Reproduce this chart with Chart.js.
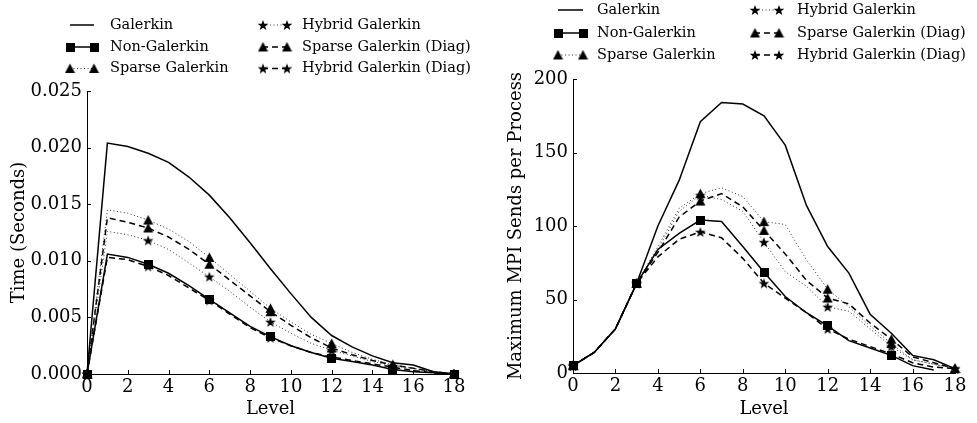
<!DOCTYPE html>
<html>
<head>
<meta charset="utf-8">
<script src="https://cdn.jsdelivr.net/npm/chart.js@4.4.0/dist/chart.umd.min.js"></script>
<style>
html, body { margin: 0; padding: 0; background: #fff; }
#wrap { position: relative; width: 977px; height: 423px; overflow: hidden; }
#timeChart { position: absolute; left: 0; top: 0; }
#sendsChart { position: absolute; left: 488px; top: 0; }
</style>
</head>
<body>
<div id="wrap">
  <canvas id="timeChart" width="488" height="423"></canvas>
  <canvas id="sendsChart" width="489" height="423"></canvas>
</div>
<script>
// niveles (eje x)
const levels = [0, 1, 2, 3, 4, 5, 6, 7, 8, 9, 10, 11, 12, 13, 14, 15, 16, 17, 18];

const seriesLabels = ['Galerkin', 'Non-Galerkin', 'Sparse Galerkin', 'Hybrid Galerkin',
                      'Sparse Galerkin (Diag)', 'Hybrid Galerkin (Diag)'];

// tiempo por nivel (segundos)
const timeGalerkin   = [0, 0.0204, 0.0201, 0.0195, 0.0187, 0.0174, 0.0158, 0.0138, 0.0116, 0.0093, 0.0071, 0.0050, 0.0034, 0.0024, 0.0016, 0.0010, 0.0008, 0.0002, 0];
const timeNonGal     = [0, 0.0106, 0.0103, 0.0097, 0.0089, 0.0078, 0.0066, 0.0054, 0.0042, 0.0033, 0.0025, 0.0019, 0.0014, 0.0011, 0.0008, 0.0004, 0.0002, 0.0001, 0];
const timeSparse     = [0, 0.0145, 0.0142, 0.0136, 0.0128, 0.0117, 0.0103, 0.0088, 0.0073, 0.0058, 0.0046, 0.0035, 0.0027, 0.0019, 0.0013, 0.0008, 0.0005, 0.0002, 0];
const timeHybrid     = [0, 0.0126, 0.0123, 0.0118, 0.0110, 0.0098, 0.0086, 0.0073, 0.0059, 0.0046, 0.0036, 0.0027, 0.0021, 0.0016, 0.0011, 0.0007, 0.0005, 0.0002, 0];
const timeSparseDiag = [0, 0.0138, 0.0134, 0.0129, 0.0121, 0.0110, 0.0097, 0.0083, 0.0069, 0.0055, 0.0043, 0.0032, 0.0023, 0.0017, 0.0012, 0.0008, 0.0005, 0.0002, 0];
const timeHybridDiag = [0, 0.0103, 0.0101, 0.0095, 0.0087, 0.0076, 0.0065, 0.0053, 0.0041, 0.0032, 0.0025, 0.0019, 0.0015, 0.0012, 0.0009, 0.0006, 0.0003, 0.0001, 0];

// envios MPI maximos por proceso
const sendsGalerkin   = [5, 14, 30, 61, 100, 131, 171, 184, 183, 175, 155, 114, 86, 68, 40, 27, 12, 9, 3];
const sendsNonGal     = [5, 14, 30, 61, 84, 95, 104, 103, 86, 68.5, 52, 41, 32, 22, 17, 12, 5, 2, null];
const sendsSparse     = [5, 14, 30, 61, 86, 112, 122, 126, 120, 103, 101, 77, 57, 45, 32, 20, 9, 6, 3];
const sendsHybrid     = [5, 14, 30, 61, 84, 110, 121, 118, 110, 89, 69, 59, 45, 42, 30, 18, 9, 6, 3];
const sendsSparseDiag = [5, 14, 30, 61, 82, 106, 117, 122, 113, 97, 81, 63, 51, 47, 34, 23, 11, 7, 3];
const sendsHybridDiag = [5, 14, 30, 61, 79, 91, 96, 92, 78, 61, 51, 41, 30, 23, 18, 13, 7, 4, 3];

Chart.defaults.font.family = 'DejaVu Serif';
Chart.defaults.color = '#000';

// marcadores dibujados a mano (estrella rellena como matplotlib)
function makeMarker(kind) {
  const c = document.createElement('canvas');
  const g = c.getContext('2d');
  g.beginPath();
  if (kind === 'square') {
    c.width = 9; c.height = 9;
    g.fillStyle = '#000';
    g.rect(0, 0, 9, 9);
  } else if (kind === 'triangle') {
    c.width = 11; c.height = 11;
    g.fillStyle = '#000';
    g.moveTo(5.5, 0.5); g.lineTo(10.5, 10); g.lineTo(0.5, 10); g.closePath();
  } else {
    c.width = 12; c.height = 12;
    g.fillStyle = '#000';
    for (let k = 0; k < 10; k++) {
      const r = k % 2 === 0 ? 5.6 : 2.3;
      const a = -Math.PI / 2 + k * Math.PI / 5;
      const px = 6 + r * Math.cos(a), py = 6.5 + r * Math.sin(a);
      if (k === 0) g.moveTo(px, py); else g.lineTo(px, py);
    }
    g.closePath();
  }
  g.fill();
  return c;
}
const markers = { square: makeMarker('square'), triangle: makeMarker('triangle'), star: makeMarker('star') };

const styles = [
  { dash: [], width: 1.5, marker: null, color: '#000' },
  { dash: [], width: 1.5, marker: 'square', color: '#000' },
  { dash: [1, 2.5], width: 1, marker: 'triangle', color: '#333' },
  { dash: [1, 2.5], width: 1, marker: 'star', color: '#333' },
  { dash: [6, 4], width: 1.5, marker: 'triangle', color: '#000' },
  { dash: [6, 4], width: 1.5, marker: 'star', color: '#000' }
];

function buildDatasets(seriesList) {
  return seriesList.map((values, i) => {
    const st = styles[i];
    return {
      label: seriesLabels[i],
      data: levels.map((lv, j) => ({ x: lv, y: values[j] })),
      borderColor: st.color,
      borderWidth: st.width,
      borderDash: st.dash,
      backgroundColor: '#000',
      tension: 0,
      fill: false,
      clip: false,
      pointStyle: st.marker ? markers[st.marker] : false,
      pointRadius: ctx => (st.marker && ctx.dataIndex % 3 === 0) ? 5 : 0,
      pointHoverRadius: 0
    };
  });
}

// leyenda en dos columnas, como en la figura original
function legendPlugin(geo) {
  return {
    id: 'twoColLegend',
    afterDraw(chart) {
      const ctx = chart.ctx;
      ctx.save();
      ctx.font = '14.5px "DejaVu Serif"';
      ctx.textBaseline = 'middle';
      ctx.fillStyle = '#000';
      seriesLabels.forEach((label, i) => {
        const col = Math.floor(i / 3), row = i % 3;
        const x1 = geo.cols[col][0], x2 = geo.cols[col][1], tx = geo.cols[col][2];
        const y = geo.rows[row];
        const st = styles[i];
        ctx.save();
        ctx.strokeStyle = st.color;
        ctx.lineWidth = st.width;
        ctx.setLineDash(st.dash);
        ctx.lineDashOffset = st.dash.length && st.dash[0] > 2 ? 1 : 0;
        ctx.beginPath();
        ctx.moveTo(x1, y); ctx.lineTo(x2, y);
        ctx.stroke();
        ctx.restore();
        if (st.marker) {
          const m = markers[st.marker];
          [x1, x2].forEach(mx => ctx.drawImage(m, mx - m.width / 2, y - m.height / 2));
        }
        ctx.fillText(label, tx, y);
      });
      ctx.restore();
    }
  };
}

// marcas de los ejes hacia dentro
const inwardTicks = {
  id: 'inwardTicks',
  afterDatasetsDraw(chart) {
    const { ctx, chartArea, scales } = chart;
    ctx.save();
    ctx.strokeStyle = '#000';
    ctx.lineWidth = 1;
    ctx.beginPath();
    scales.x.ticks.forEach(t => {
      const px = Math.round(scales.x.getPixelForValue(t.value)) + 0.5;
      ctx.moveTo(px, chartArea.bottom); ctx.lineTo(px, chartArea.bottom - 4);
    });
    scales.y.ticks.forEach(t => {
      const py = Math.round(scales.y.getPixelForValue(t.value)) + 0.5;
      ctx.moveTo(chartArea.left, py); ctx.lineTo(chartArea.left + 4, py);
    });
    ctx.stroke();
    ctx.restore();
  }
};

function makeChart(id, seriesList, yCfg, geo) {
  new Chart(document.getElementById(id), {
    type: 'line',
    data: { datasets: buildDatasets(seriesList) },
    plugins: [inwardTicks, legendPlugin(geo.legend)],
    options: {
      responsive: false,
      animation: false,
      layout: { padding: { left: 0, top: geo.top, right: geo.right, bottom: 0 } },
      plugins: { legend: { display: false }, tooltip: { enabled: false } },
      scales: {
        x: {
          type: 'linear', min: 0, max: 18,
          ticks: { stepSize: 2, font: { size: 18 }, color: '#000', padding: 3, maxRotation: 0 },
          grid: { display: true, drawOnChartArea: false, drawTicks: false },
          border: { display: true, color: '#000', width: 1 },
          title: { display: true, text: 'Level', font: { size: 18 }, color: '#000', padding: { top: 0, bottom: 3 } },
          afterFit: s => { s.height = geo.xHeight; }
        },
        y: {
          type: 'linear', min: yCfg.min, max: yCfg.max,
          ticks: { stepSize: yCfg.step, font: { size: 18 }, color: '#000', padding: 5, callback: yCfg.fmt },
          grid: { display: true, drawOnChartArea: false, drawTicks: false },
          border: { display: true, color: '#000', width: 1 },
          title: { display: true, text: yCfg.title, font: { size: 18 }, color: '#000', padding: { top: geo.yTitlePad, bottom: 0 } },
          afterFit: s => { s.width = geo.yWidth; }
        }
      }
    }
  });
}

makeChart('timeChart',
  [timeGalerkin, timeNonGal, timeSparse, timeHybrid, timeSparseDiag, timeHybridDiag],
  { min: 0, max: 0.025, step: 0.005, title: 'Time (Seconds)', fmt: v => v.toFixed(3) },
  { top: 91, right: 34, xHeight: 49, yWidth: 87, yTitlePad: 9,
    legend: { cols: [[70, 94, 110], [263, 287, 302]], rows: [25, 47, 68.5] } });

makeChart('sendsChart',
  [sendsGalerkin, sendsNonGal, sendsSparse, sendsHybrid, sendsSparseDiag, sendsHybridDiag],
  { min: 0, max: 200, step: 50, title: 'Maximum MPI Sends per Process', fmt: v => String(v) },
  { top: 79, right: 22, xHeight: 50, yWidth: 85, yTitlePad: 18,
    legend: { cols: [[70, 95, 109], [267, 291, 309]], rows: [10, 33, 55] } });
</script>
</body>
</html>
